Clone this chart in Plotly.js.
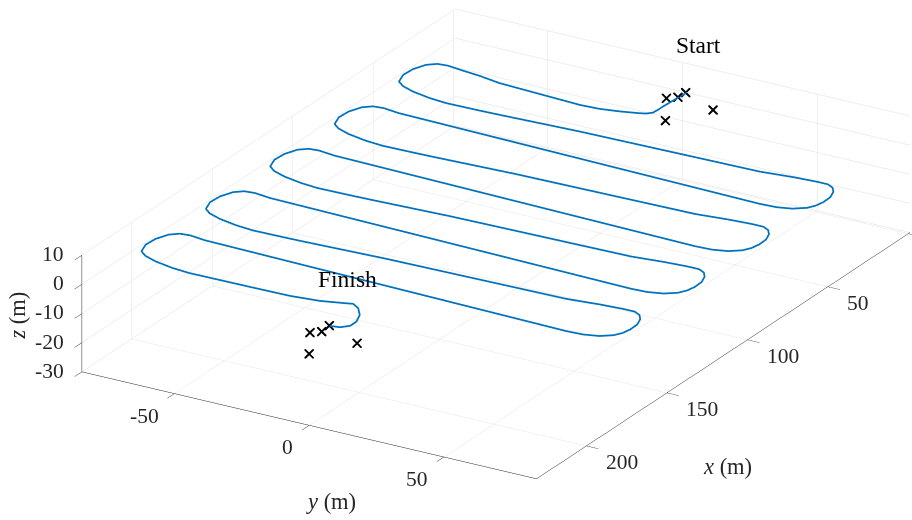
<!DOCTYPE html>
<html><head><meta charset="utf-8">
<script src="https://cdn.plot.ly/plotly-3.0.1.min.js"></script>
<style>html,body{margin:0;padding:0;background:#fff;overflow:hidden}#chart{width:912px;height:520px}</style>
</head><body><div id="chart"></div>
<script>
const pathX = [
-0.5, 6.8, 12.6, 15.7, 18.4, 20.1, 21.0, 23.0, 24.5, 25.0, 23.0, 21.2,
20.3, 19.3, 19.8, 22.3, 27.4, 33.0, 38.3, 40.8, 43.0, 44.8, 45.6,
45.3, 45.0, 43.5, 41.9,
40.3, 39.6, 39.6, 41.2, 43.9, 48.1, 52.7, 56.4, 59.4, 62.3, 63.9, 64.3,
60.3, 59.3, 59.8, 62.3, 67.4, 73.0, 78.3, 80.8, 83.0, 84.8, 85.6,
85.3, 85.0, 83.5, 81.9,
80.3, 79.6, 79.6, 81.2, 83.9, 88.1, 92.7, 96.4, 99.4, 102.3, 103.9, 104.3,
100.3, 99.3, 99.8, 102.3, 107.4, 113.0, 118.3, 120.8, 123.0, 124.8, 125.6,
125.3, 125.0, 123.5, 121.9,
120.3, 119.6, 119.6, 121.2, 123.9, 128.1, 132.7, 136.4, 139.4, 142.3, 143.9, 144.3,
140.3, 139.3, 139.8, 142.3, 147.4, 153.0, 158.3, 160.8, 163.0, 164.8, 165.6,
165.3, 165.0, 163.5, 161.9,
160.3, 159.6, 159.6, 161.2, 163.9, 168.1, 172.7, 176.4, 179.4, 182.3, 183.9, 184.3,
180.3, 179.3, 179.8, 182.3, 187.4, 193.0, 198.3, 200.8, 203.0, 204.8, 205.6,
205.3, 205.0, 203.6, 201.1, 200.2, 202.4, 206.8, 212.0, 216.0, 218.6, 219.3
];
const pathY = [
1.5, 1.1, 0.8, 0.8, 0.6, -0.8, -2.8, -9.0, -15.5, -22.7, -53.6, -62.1,
-68.8, -75.0, -78.6, -81.3, -83.1, -83.4, -81.8, -78.9, -73.8, -66.5, -59.8,
-47.7, -40.4, -11.6, 54.2,
65.7, 73.9, 78.2, 80.9, 82.8, 84.2, 84.35, 83.7, 82.2, 78.6, 73.6, 67.7,
-68.8, -75.0, -78.6, -81.3, -83.1, -83.4, -81.8, -78.9, -73.8, -66.5, -59.8,
-47.7, -40.4, -11.6, 54.2,
65.7, 73.9, 78.2, 80.9, 82.8, 84.2, 84.35, 83.7, 82.2, 78.6, 73.6, 67.7,
-68.8, -75.0, -78.6, -81.3, -83.1, -83.4, -81.8, -78.9, -73.8, -66.5, -59.8,
-47.7, -40.4, -11.6, 54.2,
65.7, 73.9, 78.2, 80.9, 82.8, 84.2, 84.35, 83.7, 82.2, 78.6, 73.6, 67.7,
-68.8, -75.0, -78.6, -81.3, -83.1, -83.4, -81.8, -78.9, -73.8, -66.5, -59.8,
-47.7, -40.4, -11.6, 54.2,
65.7, 73.9, 78.2, 80.9, 82.8, 84.2, 84.35, 83.7, 82.2, 78.6, 73.6, 67.7,
-68.8, -75.0, -78.6, -81.3, -83.1, -83.4, -81.8, -78.9, -73.8, -66.5, -59.8,
-37.4, -22.7, -12.4, -4.6, -2.1, 1.1, 4.3, 6.2, 6.2, 4.0, 0.7
];
const pathZ = [
0,0,0,0,0,0,0,0,0,0,0,0,
0,0,0,0,0,0,0,0,0,0,0,
0,0,0,0,
0,0,0,0,0,0,0,0,0,0,0,0,
0,0,0,0,0,0,0,0,0,0,0,
0,0,0,0,
0,0,0,0,0,0,0,0,0,0,0,0,
0,0,0,0,0,0,0,0,0,0,0,
0,0,0,0,
0,0,0,0,0,0,0,0,0,0,0,0,
0,0,0,0,0,0,0,0,0,0,0,
0,0,0,0,
0,0,0,0,0,0,0,0,0,0,0,0,
0,0,0,0,0,0,0,0,0,0,0,
0,0,0,0,0,0,0,0,0,0,0
];
const markX = [-0.9, 3.6, 6.2, 6.5, 6.7, 219.2, 224.6, 227.2, 226.7, 226.9];
const markY = [1.2, 1.0, -1.7, -1.9, 15.9, 0.4, 0.8, -2.0, -2.6, 15.3];
const markZ = [0, 0, 0, -7.6, 0, 0, 0, 0, -7.6, 0];
const labelText = ['Start', 'Finish'];
const labelX = [-0.5, 219.3];
const labelY = [1.5, 0.7];
const labelZ = [0, 0];
const xRange = [-1, 231], yRange = [-84.4, 84.4], zRange = [-30, 10];
const xTickVals = [0, 50, 100, 150, 200];
const xTickText = ['', '50', '100', '150', '200'];
const yTickVals = [-50, 0, 50];
const yTickText = ['-50', '0', '50'];
const zTickVals = [-30, -20, -10, 0, 10];
const zTickText = ['-30', '-20', '-10', '0', '10'];
const xTitle = '<i>x</i> (m)', yTitle = '<i>y</i> (m)', zTitle = '<i>z</i> (m)';

const FONT = 'Liberation Serif';
const INK = '#262626';
const axisCommon = {
  showgrid: true, gridcolor: '#dedede', gridwidth: 1,
  showline: true, linecolor: INK, linewidth: 1,
  zeroline: false, showbackground: false, showspikes: false,
  ticks: 'outside', tickcolor: INK, ticklen: 14, tickwidth: 1,
  showticklabels: false, tickmode: 'array', title: {text: ''}
};
// camera: orthographic view direction and look-at point
const viewDir = [0.7890, 0.4714, 0.3939];
const lookAt = [0.09965, -0.11924, -0.05691];
const dist = 2;
const S = 2.8;

// inner edges used to anchor tick labels (just inside the axis ranges)
const xEdge = xRange[1] - 0.05, yLo = yRange[0] + 0.05, yHi = yRange[1] - 0.05, zLo = zRange[0] + 0.01, zHi = zRange[1] - 0.01;
const ann = [];
function A(x, y, z, text, o) {
  ann.push(Object.assign({x: x, y: y, z: z, text: text, showarrow: false, borderpad: 0, borderwidth: 0,
    font: {family: FONT, size: 21.5, color: INK}}, o));
}
xTickVals.forEach((v, i) => { if (xTickText[i]) A(v, yHi, zLo, xTickText[i], {xanchor: 'left', xshift: 19.5, yshift: -16}); });
yTickVals.forEach((v, i) => A(xEdge, v, zLo, yTickText[i], {xanchor: 'right', xshift: -16, yshift: -22}));
zTickVals.forEach((v, i) => A(xEdge, yLo, Math.min(Math.max(v, zLo), zHi), zTickText[i], {xanchor: 'right', xshift: -18, yshift: 1}));
A((xRange[0] + xRange[1]) / 2, yHi, zLo, xTitle, {xshift: 4.3, yshift: -111, font: {family: FONT, size: 22.5, color: INK}});
A(xEdge, 0, zLo, yTitle, {xshift: 21.5, yshift: -76, font: {family: FONT, size: 22.5, color: INK}});
A(xEdge, yLo, (zRange[0] + zRange[1]) / 2, zTitle, {xshift: -65, yshift: -2, textangle: -90, font: {family: FONT, size: 22.5, color: INK}});
A(labelX[0], labelY[0], labelZ[0], labelText[0], {xshift: 12.7, yshift: 48.3, font: {family: FONT, size: 23.5, color: '#000'}});
A(labelX[1], labelY[1], labelZ[1], labelText[1], {xshift: 17.9, yshift: 46.8, font: {family: FONT, size: 23.5, color: '#000'}});

const traces = [
  {type: 'scatter3d', mode: 'lines', x: pathX, y: pathY, z: pathZ,
   line: {color: '#0072BD', width: 3.5}, hoverinfo: 'skip'},
  {type: 'scatter3d', mode: 'markers', x: markX, y: markY, z: markZ,
   marker: {symbol: 'x', size: 2.2, color: '#000000'}, hoverinfo: 'skip'}
];
const layout = {
  width: 912, height: 520,
  margin: {l: 0, r: 0, t: 0, b: 0},
  paper_bgcolor: '#ffffff',
  showlegend: false, hovermode: false,
  scene: {
    domain: {x: [0, 1], y: [0, 1]},
    aspectmode: 'manual',
    aspectratio: {x: S, y: S * (yRange[1] - yRange[0]) / (xRange[1] - xRange[0]),
                  z: S * 1.011 * (zRange[1] - zRange[0]) / (xRange[1] - xRange[0])},
    camera: {projection: {type: 'orthographic'}, up: {x: 0, y: 0, z: 1},
             center: {x: lookAt[0], y: lookAt[1], z: lookAt[2]},
             eye: {x: lookAt[0] + dist * viewDir[0], y: lookAt[1] + dist * viewDir[1], z: lookAt[2] + dist * viewDir[2]}},
    xaxis: Object.assign({}, axisCommon, {range: xRange, tickvals: xTickVals, ticktext: xTickText}),
    yaxis: Object.assign({}, axisCommon, {range: yRange, tickvals: yTickVals, ticktext: yTickText}),
    zaxis: Object.assign({}, axisCommon, {range: zRange, tickvals: zTickVals, ticktext: zTickText}),
    annotations: ann
  }
};
Plotly.newPlot('chart', traces, layout, {displayModeBar: false});
</script>
</body></html>
